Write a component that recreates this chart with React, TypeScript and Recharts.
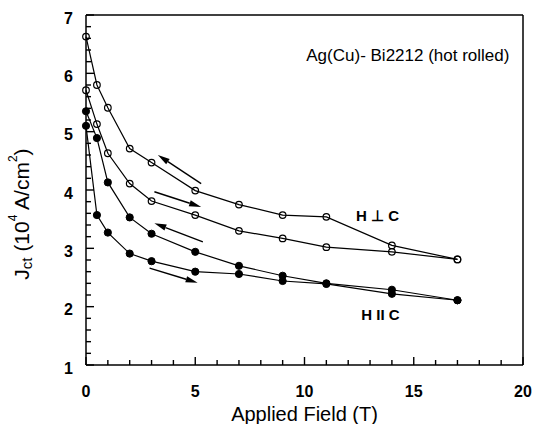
import { ComposedChart, Line, XAxis, YAxis, ReferenceLine, ReferenceDot, Label } from 'recharts';

const FONT = '"Liberation Sans", Arial, Helvetica, sans-serif';

// applied field (T)
const FIELD = [0, 0.5, 1, 2, 3, 5, 7, 9, 11, 14, 17];
// Jct in 10^4 A/cm^2
const PERP_DOWN = [6.63, 5.8, 5.41, 4.71, 4.47, 3.99, 3.75, 3.57, 3.54, 3.05, 2.81];
const PERP_UP = [5.71, 5.13, 4.63, 4.11, 3.81, 3.57, 3.3, 3.17, 3.02, 2.94, 2.81];
const PARA_DOWN = [5.35, 4.89, 4.13, 3.53, 3.25, 2.94, 2.7, 2.53, 2.4, 2.29, 2.11];
const PARA_UP = [5.1, 3.57, 3.27, 2.91, 2.78, 2.6, 2.56, 2.44, 2.39, 2.22, 2.11];

// every tick position (labels only on the integer / multiple-of-5 ones)
const X_TICKS = Array.from({ length: 21 }, (_, i) => i);
const Y_TICKS = Array.from({ length: 31 }, (_, i) => Math.round((1 + i * 0.2) * 10) / 10);

// sweep direction arrows: tail -> tip
const ARROWS = [
  { from: { x: 5.27, y: 4.11 }, to: { x: 3.29, y: 4.6 } },
  { from: { x: 3.13, y: 3.97 }, to: { x: 5.27, y: 3.71 } },
  { from: { x: 5.35, y: 3.11 }, to: { x: 3.13, y: 3.43 } },
  { from: { x: 2.91, y: 2.66 }, to: { x: 5.11, y: 2.41 } },
];

const toPoints = (ys: number[]) => FIELD.map((x, i) => ({ x, y: ys[i] }));

const isMajorX = (v: number) => Math.abs(v % 5) < 1e-6;
const isMajorY = (v: number) => Math.abs(v - Math.round(v)) < 1e-6;

const labelStyle = { fontSize: 16, fontWeight: 'bold' as const, fill: '#000', fontFamily: FONT };
const frame = { stroke: '#000', strokeWidth: 1.5 };
const TW = 1.4; // tick thickness

// ticks point inward, drawn as thin filled rects; tickSize/tickMargin are 0 so (x, y) sits on the frame
const BottomTick = (props: any) => {
  const x = Number(props.x);
  const y = Number(props.y);
  const major = isMajorX(props.payload.value);
  const len = major ? 8 : 5;
  return (
    <g>
      <rect x={x - TW / 2} y={y - len} width={TW} height={len} fill="#000" />
      {major && (
        <text x={x} y={y + 26} textAnchor="middle" dominantBaseline="central" {...labelStyle}>
          {props.payload.value}
        </text>
      )}
    </g>
  );
};

const TopTick = (props: any) => {
  const x = Number(props.x);
  const y = Number(props.y);
  const len = isMajorX(props.payload.value) ? 8 : 5;
  return <rect x={x - TW / 2} y={y} width={TW} height={len} fill="#000" />;
};

const LeftTick = (props: any) => {
  const x = Number(props.x);
  const y = Number(props.y);
  const major = isMajorY(props.payload.value);
  const len = major ? 8 : 5;
  return (
    <g>
      <rect x={x} y={y - TW / 2} width={len} height={TW} fill="#000" />
      {major && (
        <text x={x - 13} y={y + 3} textAnchor="end" dominantBaseline="central" {...labelStyle}>
          {props.payload.value}
        </text>
      )}
    </g>
  );
};

const RightTick = (props: any) => {
  const x = Number(props.x);
  const y = Number(props.y);
  const len = isMajorY(props.payload.value) ? 8 : 5;
  return <rect x={x - len} y={y - TW / 2} width={len} height={TW} fill="#000" />;
};

const Arrow = (p: any) => {
  const { x1, y1, x2, y2 } = p;
  const dx = x2 - x1;
  const dy = y2 - y1;
  const len = Math.hypot(dx, dy) || 1;
  const ux = dx / len;
  const uy = dy / len;
  const hl = 12;
  const hw = 3.2;
  const bx = x2 - ux * hl;
  const by = y2 - uy * hl;
  return (
    <g>
      <line x1={x1} y1={y1} x2={bx} y2={by} stroke="#000" strokeWidth={1.4} />
      <polygon points={`${x2},${y2} ${bx - uy * hw},${by + ux * hw} ${bx + uy * hw},${by - ux * hw}`} fill="#000" />
    </g>
  );
};

const textAt = (value: string, anchor: 'start' | 'middle' | 'end', size: number, weight: string) => (p: any) => (
  <text x={p.cx} y={p.cy} textAnchor={anchor} dominantBaseline="central" fontFamily={FONT} fontSize={size} fontWeight={weight} fill="#000">
    {value}
  </text>
);

const YTitle = (props: any) => {
  const { viewBox } = props;
  const x = viewBox.x + 21;
  const y = viewBox.y + viewBox.height / 2 + 24;
  return (
    <text x={x} y={y} transform={`rotate(-90, ${x}, ${y})`} textAnchor="middle" dominantBaseline="central" fontFamily={FONT} fontSize={21} fill="#000">
      <tspan>J</tspan>
      <tspan fontSize={15} dy={5}>ct</tspan>
      <tspan dy={-5}> (10</tspan>
      <tspan fontSize={12} dy={-8}>4</tspan>
      <tspan dy={8}> A/cm</tspan>
      <tspan fontSize={12} dy={-8}>2</tspan>
      <tspan dy={8}>)</tspan>
    </text>
  );
};

const XTitle = (props: any) => {
  const { viewBox } = props;
  return (
    <text x={viewBox.x + viewBox.width / 2} y={viewBox.y + viewBox.height - 10} textAnchor="middle" dominantBaseline="central" fontFamily={FONT} fontSize={20} fill="#000">
      Applied Field (T)
    </text>
  );
};

export default function App() {
  return (
    <div style={{ position: 'absolute', left: 0, top: 0, width: 534, height: 424, background: '#fff' }}>
      <ComposedChart width={534} height={424} margin={{ top: 14, right: 10, bottom: 0, left: 0 }}>
        <XAxis
          type="number"
          dataKey="x"
          domain={[0, 20]}
          ticks={X_TICKS}
          interval={0}
          axisLine={frame}
          tickLine={false}
          tickSize={0}
          tickMargin={0}
          height={59}
          tick={BottomTick}
        >
          <Label content={XTitle} />
        </XAxis>
        <XAxis
          xAxisId="top"
          orientation="top"
          type="number"
          dataKey="x"
          domain={[0, 20]}
          ticks={X_TICKS}
          interval={0}
          axisLine={frame}
          tickLine={false}
          tickSize={0}
          tickMargin={0}
          height={1}
          tick={TopTick}
        />
        <YAxis
          type="number"
          dataKey="y"
          domain={[1, 7]}
          ticks={Y_TICKS}
          interval={0}
          axisLine={frame}
          tickLine={false}
          tickSize={0}
          tickMargin={0}
          width={86}
          tick={LeftTick}
        >
          <Label content={YTitle} />
        </YAxis>
        <YAxis
          yAxisId="right"
          orientation="right"
          type="number"
          dataKey="y"
          domain={[1, 7]}
          ticks={Y_TICKS}
          interval={0}
          axisLine={frame}
          tickLine={false}
          tickSize={0}
          tickMargin={0}
          width={1}
          tick={RightTick}
        />

        {ARROWS.map((a, i) => (
          <ReferenceLine key={`arrow${i}`} segment={[a.from, a.to]} shape={Arrow} />
        ))}

        <Line data={toPoints(PERP_DOWN)} dataKey="y" stroke="#000" strokeWidth={1.2} isAnimationActive={false}
          dot={{ r: 3.3, fill: 'none', stroke: '#000', strokeWidth: 1.2 }} />
        <Line data={toPoints(PERP_UP)} dataKey="y" stroke="#000" strokeWidth={1.2} isAnimationActive={false}
          dot={{ r: 3.3, fill: 'none', stroke: '#000', strokeWidth: 1.2 }} />
        <Line data={toPoints(PARA_DOWN)} dataKey="y" stroke="#000" strokeWidth={1.2} isAnimationActive={false}
          dot={{ r: 3.6, fill: '#000', stroke: '#000', strokeWidth: 1 }} />
        <Line data={toPoints(PARA_UP)} dataKey="y" stroke="#000" strokeWidth={1.2} isAnimationActive={false}
          dot={{ r: 3.6, fill: '#000', stroke: '#000', strokeWidth: 1 }} />

        <ReferenceDot x={19.38} y={6.3} r={0} shape={textAt('Ag(Cu)- Bi2212 (hot rolled)', 'end', 17, 'normal')} />
        <ReferenceDot x={13.34} y={3.57} r={0} shape={textAt('H \u22A5 C', 'middle', 15, 'bold')} />
        <ReferenceDot x={13.48} y={1.86} r={0} shape={textAt('H II C', 'middle', 15, 'bold')} />
      </ComposedChart>
    </div>
  );
}
